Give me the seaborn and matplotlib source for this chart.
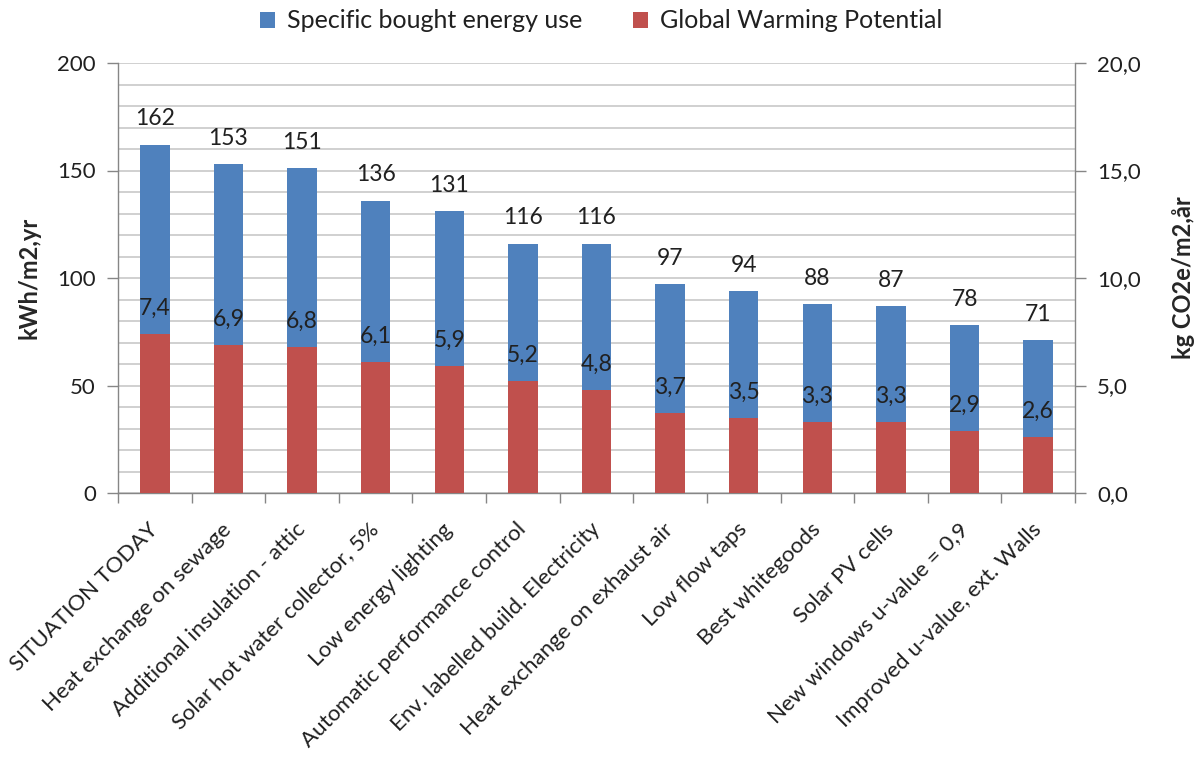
import matplotlib
matplotlib.use("Agg")
import matplotlib.pyplot as plt
from matplotlib.ticker import MultipleLocator, FixedLocator, FuncFormatter
from matplotlib.patches import Patch
import seaborn as sns
import pandas as pd

measures = [
    "SITUATION TODAY",
    "Heat exchange on sewage",
    "Additional insulation - attic",
    "Solar hot water collector, 5%",
    "Low energy lighting",
    "Automatic performance control",
    "Env. labelled build. Electricity",
    "Heat exchange on exhaust air",
    "Low flow taps",
    "Best whitegoods",
    "Solar PV cells",
    "New windows u-value = 0,9",
    "Improved u-value, ext. Walls",
]
energy_use = [162, 153, 151, 136, 131, 116, 116, 97, 94, 88, 87, 78, 71]
gwp = [7.4, 6.9, 6.8, 6.1, 5.9, 5.2, 4.8, 3.7, 3.5, 3.3, 3.3, 2.9, 2.6]

BLUE = "#4F81BD"
RED = "#C0504D"
AXIS_GRAY = "#868686"
GRID_GRAY = "#C8C8C8"
TEXT = "#202020"

sns.set_style("white")
plt.rcParams["font.family"] = ["Lato", "DejaVu Sans"]
plt.rcParams["text.color"] = TEXT
plt.rcParams["xtick.color"] = TEXT
plt.rcParams["ytick.color"] = TEXT

df = pd.DataFrame({"measure": measures, "energy": energy_use, "gwp": gwp})

fig = plt.figure(figsize=(12.02, 7.76), dpi=100)
ax1 = fig.add_axes([118 / 1202, 1 - 493 / 776, (1075 - 118) / 1202, (493 - 63) / 776])
ax2 = ax1.twinx()

sns.barplot(data=df, x="measure", y="energy", color=BLUE, saturation=1,
            width=0.4, ax=ax1, linewidth=0)
sns.barplot(data=df, x="measure", y="gwp", color=RED, saturation=1,
            width=0.4, ax=ax2, linewidth=0)

ax1.set_xlim(-0.5, len(measures) - 0.5)
ax1.set_ylim(0, 200)
ax2.set_ylim(0, 20)

# left axis: ticks every 50, gridlines every 10
ax1.yaxis.set_major_locator(MultipleLocator(50))
ax1.yaxis.set_minor_locator(MultipleLocator(10))
ax1.grid(axis="y", which="both", color=GRID_GRAY, linewidth=1.2)
ax1.set_axisbelow(True)
ax1.tick_params(axis="y", which="major", length=8, width=1, color=AXIS_GRAY,
                labelcolor=TEXT, labelsize=16, pad=8, direction="out", left=True)
ax1.tick_params(axis="y", which="minor", length=0)

# right axis
ax2.yaxis.set_major_locator(MultipleLocator(5))
ax2.yaxis.set_major_formatter(FuncFormatter(lambda v, p: f"{v:.1f}".replace(".", ",")))
ax2.tick_params(axis="y", which="major", length=8, width=1, color=AXIS_GRAY,
                labelcolor=TEXT, labelsize=16, pad=8, direction="out", right=True)
ax2.grid(False)

# category axis: ticks at category boundaries
ax1.xaxis.set_minor_locator(FixedLocator([i - 0.5 for i in range(len(measures) + 1)]))
ax1.tick_params(axis="x", which="minor", length=7, width=1, color=AXIS_GRAY,
                direction="out", bottom=True)
ax1.tick_params(axis="x", which="major", length=0, pad=24)
ax1.set_xticks(range(len(measures)))
ax1.set_xticklabels(measures, rotation=45, ha="right", va="center",
                    rotation_mode="anchor", fontsize=16)
ax1.set_xlabel("")

for ax in (ax1, ax2):
    for side in ("top", "right", "left", "bottom"):
        ax.spines[side].set_visible(False)
ax1.spines["left"].set_visible(True)
ax1.spines["bottom"].set_visible(True)
ax2.spines["right"].set_visible(True)
for sp in (ax1.spines["left"], ax1.spines["bottom"], ax2.spines["right"]):
    sp.set_color(AXIS_GRAY)
    sp.set_linewidth(1)

ax1.set_ylabel("kWh/m2,yr", fontsize=17, fontweight="bold", labelpad=12)
ax2.set_ylabel("kg CO2e/m2,år", fontsize=17, fontweight="bold", labelpad=22)

# value labels
ax1.bar_label(ax1.containers[0], labels=[f"{v:d}" for v in energy_use],
              padding=11, fontsize=16.5)
ax2.bar_label(ax2.containers[0], labels=[f"{v:.1f}".replace(".", ",") for v in gwp],
              padding=11, fontsize=16.5)

handles = [Patch(facecolor=BLUE, edgecolor="none"), Patch(facecolor=RED, edgecolor="none")]
fig.legend(handles, ["Specific bought energy use", "Global Warming Potential"],
           loc="center", bbox_to_anchor=(0.5, 1 - 21 / 776), ncol=2, frameon=False,
           fontsize=18, handlelength=0.6, handleheight=0.6, handletextpad=0.5,
           columnspacing=2.0)

fig.savefig("out.png", dpi=100)
